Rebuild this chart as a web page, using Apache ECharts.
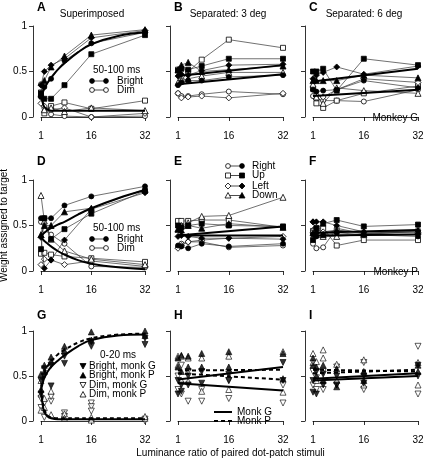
<!DOCTYPE html>
<html><head><meta charset="utf-8">
<script src="https://cdn.jsdelivr.net/npm/echarts@6/dist/echarts.min.js"></script>
<style>html,body{margin:0;padding:0;background:#fff}#c{width:424px;height:458px}</style>
</head><body><div id="c"></div>
<script>
const FONT = 'Liberation Sans, Arial, Helvetica, sans-serif';
// ---------- data ----------
const xs = [1, 2, 4, 8, 16, 32];
const fitXs = [1, 1.5, 2, 3, 4, 6, 8, 12, 16, 24, 32];
const endXs = [1, 32];
const xTicks = [1, 16, 32];
const yTicks = [0, 0.5, 1];
const panelLetters = ['A','B','C','D','E','F','G','H','I'];
const directions = ['Right', 'Up', 'Left', 'Down'];

// Panel A (superimposed, monkey G, 50-100 ms)
const A_bright = { Right: [0.22, 0.33, 0.42, 0.62, 0.81, 0.93], Up: [0.26, 0.20, 0.20, 0.35, 0.69, 0.90], Left: [0.35, 0.50, 0.57, 0.64, 0.87, 0.95], Down: [0.25, 0.40, 0.55, 0.67, 0.90, 0.96] };
const A_dim = { Right: [0.36, 0.10, 0.03, 0.01, 0.00, 0.01], Up: [0.27, 0.04, 0.12, 0.16, 0.09, 0.18], Left: [0.15, 0.12, 0.08, 0.10, 0.00, 0.04], Down: [0.26, 0.08, 0.10, 0.06, 0.10, 0.07] };
const A_fitBright = [0.22, 0.27, 0.31, 0.38, 0.43, 0.52, 0.59, 0.71, 0.80, 0.89, 0.93];
const A_fitDim = [0.27, 0.16, 0.11, 0.08, 0.07, 0.07, 0.07, 0.07, 0.07, 0.07, 0.07];
// Panel B (separated 3 deg, monkey G)
const B_bright = { Right: [0.35, 0.38, 0.40, 0.40, 0.44, 0.46], Up: [0.51, 0.53, 0.52, 0.56, 0.64, 0.64], Left: [0.45, 0.47, 0.46, 0.51, 0.57, 0.58], Down: [0.52, 0.57, 0.60, 0.50, 0.52, 0.56] };
const B_dim = { Right: [0.26, 0.23, 0.23, 0.25, 0.28, 0.25], Up: [0.52, 0.40, 0.50, 0.63, 0.85, 0.76], Left: [0.26, 0.21, 0.22, 0.23, 0.21, 0.26], Down: [0.38, 0.40, 0.42, 0.45, 0.49, 0.49] };
const B_fitBright = [0.45, 0.57];
const B_fitDim = [0.36, 0.47];
// Panel C (separated 6 deg, monkey G)
const C_bright = { Right: [0.30, 0.28, 0.29, 0.30, 0.40, 0.32], Up: [0.50, 0.50, 0.53, 0.29, 0.64, 0.57], Left: [0.42, 0.46, 0.49, 0.55, 0.47, 0.56], Down: [0.40, 0.40, 0.40, 0.40, 0.46, 0.43] };
const C_dim = { Right: [0.23, 0.20, 0.18, 0.18, 0.17, 0.30], Up: [0.31, 0.15, 0.10, 0.18, 0.26, 0.34], Left: [0.33, 0.24, 0.22, 0.30, 0.42, 0.38], Down: [0.36, 0.22, 0.15, 0.32, 0.29, 0.26] };
const C_fitBright = [0.39, 0.53];
const C_fitDim = [0.23, 0.30];
// Panel D (superimposed, monkey P)
const D_bright = { Right: [0.58, 0.58, 0.58, 0.72, 0.82, 0.93], Up: [0.24, 0.58, 0.35, 0.46, 0.63, 0.88], Left: [0.37, 0.03, 0.12, 0.34, 0.68, 0.86], Down: [0.40, 0.50, 0.50, 0.65, 0.69, 0.90] };
const D_dim = { Right: [0.54, 0.45, 0.40, 0.30, 0.05, 0.04], Up: [0.19, 0.20, 0.18, 0.16, 0.14, 0.10], Left: [0.07, 0.13, 0.12, 0.07, 0.11, 0.05], Down: [0.83, 0.55, 0.35, 0.22, 0.13, 0.07] };
const D_fitBright = [0.37, 0.40, 0.42, 0.45, 0.47, 0.51, 0.54, 0.62, 0.69, 0.80, 0.89];
const D_fitDim = [0.37, 0.35, 0.33, 0.30, 0.27, 0.22, 0.18, 0.12, 0.08, 0.04, 0.02];
// Panel E (separated 3 deg, monkey P)
const E_bright = { Right: [0.28, 0.27, 0.25, 0.30, 0.27, 0.30], Up: [0.50, 0.48, 0.50, 0.52, 0.50, 0.49], Left: [0.38, 0.39, 0.38, 0.36, 0.36, 0.35], Down: [0.46, 0.45, 0.50, 0.47, 0.52, 0.48] };
const E_dim = { Right: [0.26, 0.30, 0.32, 0.32, 0.26, 0.28], Up: [0.55, 0.55, 0.55, 0.56, 0.56, 0.48], Left: [0.25, 0.28, 0.32, 0.34, 0.36, 0.38], Down: [0.46, 0.50, 0.53, 0.60, 0.61, 0.81] };
const E_fitBright = [0.39, 0.49];
const E_fitDim = [0.39, 0.39];
// Panel F (separated 6 deg, monkey P)
const F_bright = { Right: [0.40, 0.38, 0.40, 0.42, 0.40, 0.38], Up: [0.34, 0.47, 0.52, 0.56, 0.49, 0.51], Left: [0.54, 0.54, 0.54, 0.50, 0.43, 0.44], Down: [0.42, 0.44, 0.40, 0.45, 0.41, 0.43] };
const F_dim = { Right: [0.30, 0.25, 0.26, 0.47, 0.41, 0.45], Up: [0.44, 0.47, 0.47, 0.28, 0.34, 0.34], Left: [0.54, 0.45, 0.43, 0.45, 0.42, 0.42], Down: [0.45, 0.40, 0.38, 0.38, 0.40, 0.44] };
const F_fitBright = [0.42, 0.45];
const F_fitDim = [0.39, 0.40];
// Panel G (superimposed, 0-20 ms, both monkeys)
const G_brightG = [[1,0.30],[1,0.45],[2,0.50],[2,0.58],[4,0.39],[4,0.62],[8,0.64],[8,0.72],[16,0.83],[16,0.88],[32,0.85],[32,0.92]];
const G_brightP = [[1,0.35],[1,0.52],[2,0.55],[2,0.62],[4,0.66],[4,0.71],[8,0.78],[8,0.83],[16,0.90],[16,0.99],[32,0.95],[32,1.00]];
const G_dimG = [[1,0.15],[1,0.25],[2,0.04],[2,0.20],[4,0.22],[4,0.27],[8,0.05],[8,0.09],[16,0.20],[16,0.16],[16,0.11],[32,0.02],[32,0.00]];
const G_dimP = [[1,0.12],[1,0.30],[1,0.45],[2,0.15],[2,0.25],[4,0.07],[4,0.33],[8,0.08],[8,0.03],[16,0.04],[16,0.01],[32,0.03],[32,0.05]];
const G_fitBrightG = [0.34, 0.42, 0.48, 0.55, 0.60, 0.67, 0.73, 0.83, 0.90, 0.95, 0.96];
const G_fitBrightP = [0.38, 0.47, 0.53, 0.61, 0.66, 0.74, 0.79, 0.87, 0.92, 0.96, 0.97];
const G_fitDimG = [0.33, 0.18, 0.10, 0.05, 0.03, 0.02, 0.02, 0.02, 0.02, 0.02, 0.02];
const G_fitDimP = [0.36, 0.22, 0.13, 0.06, 0.04, 0.03, 0.03, 0.03, 0.03, 0.03, 0.03];
// Panel H (separated 3 deg, 0-20 ms)
const H_brightG = [[1,0.30],[1,0.45],[2,0.33],[2,0.40],[4,0.40],[4,0.50],[8,0.42],[8,0.55],[16,0.45],[16,0.52],[32,0.45],[32,0.65]];
const H_brightP = [[1,0.70],[1,0.60],[2,0.73],[2,0.55],[4,0.72],[4,0.60],[8,0.75],[8,0.60],[16,0.77],[16,0.60],[32,0.75],[32,0.47]];
const H_dimG = [[1,0.35],[1,0.50],[2,0.30],[2,0.62],[4,0.22],[4,0.55],[8,0.22],[8,0.35],[16,0.25],[16,0.45],[32,0.20],[32,0.40]];
const H_dimP = [[1,0.72],[1,0.62],[2,0.72],[2,0.45],[4,0.70],[4,0.44],[8,0.70],[8,0.33],[16,0.72],[16,0.35],[32,0.77],[32,0.32]];
const H_fitBrightG = [0.46, 0.60];
const H_fitDimG = [0.42, 0.34];
const H_fitBrightP = [0.56, 0.57];
const H_fitDimP = [0.53, 0.46];
// Panel I (separated 6 deg, 0-20 ms)
const I_brightG = [[1,0.32],[1,0.45],[2,0.30],[2,0.55],[4,0.40],[4,0.52],[8,0.40],[8,0.50],[16,0.42],[16,0.50],[32,0.50],[32,0.62]];
const I_brightP = [[1,0.62],[1,0.70],[2,0.60],[2,0.50],[4,0.62],[4,0.45],[8,0.58],[8,0.38],[16,0.55],[16,0.45],[32,0.62],[32,0.55]];
const I_dimG = [[1,0.40],[1,0.55],[2,0.35],[2,0.48],[4,0.35],[4,0.55],[8,0.40],[8,0.60],[16,0.35],[16,0.65],[32,0.30],[32,0.83]];
const I_dimP = [[1,0.65],[1,0.75],[2,0.45],[2,0.66],[4,0.79],[4,0.70],[8,0.63],[8,0.45],[16,0.68],[16,0.40],[32,0.40],[32,0.65]];
const I_fitBrightG = [0.47, 0.53];
const I_fitDimG = [0.45, 0.50];
const I_fitBrightP = [0.57, 0.55];
const I_fitDimP = [0.53, 0.57];

// ---------- layout ----------
const cols = [{ left: 41, width: 104 }, { left: 178, width: 105 }, { left: 313, width: 105 }];
const rows = [{ top: 26, height: 91 }, { top: 180, height: 91 }, { top: 331, height: 90 }];
const shapeOf = { Right: 'circle', Up: 'rect', Left: 'diamond', Down: 'triangle' };
const sizeOf = { Right: 5, Up: 5, Left: 6, Down: 6 };

const grids = [], xAxes = [], yAxes = [], series = [];
for (let r = 0; r < 3; r++) for (let c = 0; c < 3; c++) {
  const gi = r * 3 + c;
  grids.push({ left: cols[c].left, width: cols[c].width, top: rows[r].top, height: rows[r].height, outerBoundsMode: 'none', containLabel: false });
  const ax = {
    type: 'value', gridIndex: gi, min: 1, max: 32, offset: 9,
    axisLine: { show: true, lineStyle: { color: '#000', width: 0.8 } },
    axisTick: { show: true, length: 4, customValues: xTicks, lineStyle: { color: '#000', width: 0.8 } },
    axisLabel: { show: true, customValues: xTicks, fontSize: 10, color: '#000', margin: 5, fontFamily: FONT },
    splitLine: { show: false }
  };
  if (gi === 7) {
    ax.name = 'Luminance ratio of paired dot-patch stimuli';
    ax.nameLocation = 'middle'; ax.nameGap = 18;
    ax.nameTextStyle = { fontSize: 10, color: '#000', fontFamily: FONT };
  }
  xAxes.push(ax);
  const ay = {
    type: 'value', gridIndex: gi, min: 0, max: 1, interval: 0.5, offset: 8,
    axisLine: { show: true, lineStyle: { color: '#000', width: 0.8 } },
    axisTick: { show: true, length: 4, lineStyle: { color: '#000', width: 0.8 } },
    axisLabel: { show: c === 0, fontSize: 10, color: '#000', margin: 6, fontFamily: FONT },
    splitLine: { show: false }
  };
  if (gi === 3) {
    ay.name = 'Weight assigned to target';
    ay.nameLocation = 'middle'; ay.nameGap = 20;
    ay.nameTextStyle = { fontSize: 10, color: '#000', fontFamily: FONT };
  }
  yAxes.push(ay);
}

function dirLine(gi, vals, dir, filled) {
  return {
    type: 'line', xAxisIndex: gi, yAxisIndex: gi, clip: false, animation: false,
    data: xs.map((x, i) => [x, vals[i]]),
    symbol: shapeOf[dir], symbolSize: sizeOf[dir], showSymbol: true,
    lineStyle: { color: '#333', width: 0.7 },
    itemStyle: { color: filled ? '#000' : '#fff', borderColor: '#000', borderWidth: 0.8 },
    z: filled ? 4 : 3
  };
}
function fitLine(gi, xv, vals, dashed, smooth) {
  return {
    type: 'line', xAxisIndex: gi, yAxisIndex: gi, clip: false, animation: false,
    data: xv.map((x, i) => [x, vals[i]]), symbol: 'none', showSymbol: false,
    smooth: smooth ? 0.4 : false,
    lineStyle: { color: '#000', width: 2, type: dashed ? [4, 3] : 'solid' }, z: 6
  };
}
function tri(gi, pts, down, filled) {
  return {
    type: 'scatter', xAxisIndex: gi, yAxisIndex: gi, clip: false, animation: false,
    data: pts, symbol: 'triangle', symbolSize: 6, symbolRotate: down ? 180 : 0,
    itemStyle: { color: filled ? '#000' : '#fff', borderColor: '#000', borderWidth: 0.8 },
    z: filled ? 4 : 3
  };
}

const dirPanels = [
  { gi: 0, b: A_bright, d: A_dim, fb: A_fitBright, fd: A_fitDim, curve: true },
  { gi: 1, b: B_bright, d: B_dim, fb: B_fitBright, fd: B_fitDim, curve: false },
  { gi: 2, b: C_bright, d: C_dim, fb: C_fitBright, fd: C_fitDim, curve: false },
  { gi: 3, b: D_bright, d: D_dim, fb: D_fitBright, fd: D_fitDim, curve: true },
  { gi: 4, b: E_bright, d: E_dim, fb: E_fitBright, fd: E_fitDim, curve: false },
  { gi: 5, b: F_bright, d: F_dim, fb: F_fitBright, fd: F_fitDim, curve: false }
];
dirPanels.forEach(p => {
  directions.forEach(dir => {
    series.push(dirLine(p.gi, p.d[dir], dir, false));
    series.push(dirLine(p.gi, p.b[dir], dir, true));
  });
  const xv = p.curve ? fitXs : endXs;
  series.push(fitLine(p.gi, xv, p.fb, false, p.curve));
  series.push(fitLine(p.gi, xv, p.fd, false, p.curve));
});
const triPanels = [
  { gi: 6, bG: G_brightG, bP: G_brightP, dG: G_dimG, dP: G_dimP, fits: [[fitXs, G_fitBrightG, false], [fitXs, G_fitDimG, false], [fitXs, G_fitBrightP, true], [fitXs, G_fitDimP, true]], curve: true },
  { gi: 7, bG: H_brightG, bP: H_brightP, dG: H_dimG, dP: H_dimP, fits: [[endXs, H_fitBrightG, false], [endXs, H_fitDimG, false], [endXs, H_fitBrightP, true], [endXs, H_fitDimP, true]], curve: false },
  { gi: 8, bG: I_brightG, bP: I_brightP, dG: I_dimG, dP: I_dimP, fits: [[endXs, I_fitBrightG, false], [endXs, I_fitDimG, false], [endXs, I_fitBrightP, true], [endXs, I_fitDimP, true]], curve: false }
];
triPanels.forEach(p => {
  series.push(tri(p.gi, p.dG, true, false));
  series.push(tri(p.gi, p.dP, false, false));
  series.push(tri(p.gi, p.bG, true, true));
  series.push(tri(p.gi, p.bP, false, true));
  p.fits.forEach(f => series.push(fitLine(p.gi, f[0], f[1], f[2], p.curve)));
});

// ---------- annotations / legends ----------
const G = [];
function txt(x, y, s, opt) {
  G.push({ type: 'text', x: x, y: y, z: 10, style: Object.assign({ text: s, fill: '#000', font: '10px ' + FONT, textVerticalAlign: 'middle' }, opt || {}) });
}
function sym(shape, cx, cy, filled, down) {
  const st = { fill: filled ? '#000' : '#fff', stroke: '#000', lineWidth: 0.8 };
  if (shape === 'circle') G.push({ type: 'circle', shape: { cx: cx, cy: cy, r: 2.4 }, style: st, z: 11 });
  else if (shape === 'rect') G.push({ type: 'rect', shape: { x: cx - 2.5, y: cy - 2.5, width: 5, height: 5 }, style: st, z: 11 });
  else if (shape === 'diamond') G.push({ type: 'polygon', shape: { points: [[cx, cy - 3], [cx + 3, cy], [cx, cy + 3], [cx - 3, cy]] }, style: st, z: 11 });
  else if (shape === 'triangle') {
    const pts = down ? [[cx, cy + 3], [cx + 3, cy - 2.5], [cx - 3, cy - 2.5]] : [[cx, cy - 3], [cx + 3, cy + 2.5], [cx - 3, cy + 2.5]];
    G.push({ type: 'polygon', shape: { points: pts }, style: st, z: 11 });
  }
}
function seg(x1, y1, x2, y2, w, dash) {
  G.push({ type: 'line', z: 10, shape: { x1: x1, y1: y1, x2: x2, y2: y2 }, style: { stroke: '#000', lineWidth: w, lineDash: dash || null } });
}
const letterPos = [[37, 8], [174, 8], [309, 8], [37, 162], [174, 162], [309, 162], [37, 316], [174, 316], [309, 316]];
panelLetters.forEach((L, i) => txt(letterPos[i][0], letterPos[i][1], L, { font: 'bold 12px ' + FONT }));
txt(92, 14, 'Superimposed', { textAlign: 'center' });
txt(228, 14, 'Separated: 3 deg', { textAlign: 'center' });
txt(364, 14, 'Separated: 6 deg', { textAlign: 'center' });
txt(418, 118, 'Monkey G', { textAlign: 'right' });
txt(418, 272, 'Monkey P', { textAlign: 'right' });
[[70, 81, 90], [228, 239, 248]].forEach(r => {
  txt(93, r[0], '50-100 ms');
  seg(92, r[1], 106, r[1], 0.7); sym('circle', 92, r[1], true); sym('circle', 106, r[1], true); txt(117, r[1], 'Bright');
  seg(92, r[2], 106, r[2], 0.7); sym('circle', 92, r[2], false); sym('circle', 106, r[2], false); txt(117, r[2], 'Dim');
});
const eY = [166, 175.5, 186, 195.5];
directions.forEach((dir, i) => {
  seg(228, eY[i], 242, eY[i], 0.7);
  sym(shapeOf[dir], 228, eY[i], false); sym(shapeOf[dir], 242, eY[i], true);
  txt(252, eY[i], dir);
});
txt(100, 355, '0-20 ms');
const gLeg = [['Bright, monk G', true, true], ['Bright, monk P', false, true], ['Dim, monk G', true, false], ['Dim, monk P', false, false]];
const gY = [366, 375.5, 385, 394.5];
gLeg.forEach((g, i) => { sym('triangle', 83, gY[i], g[2], g[1]); txt(89, gY[i], g[0]); });
seg(214, 412, 232, 412, 2); txt(237, 412, 'Monk G');
seg(214, 421, 232, 421, 2, [4, 3]); txt(237, 421, 'Monk P');

const chart = echarts.init(document.getElementById('c'), null, { renderer: 'canvas' });
chart.setOption({
  animation: false,
  backgroundColor: '#fff',
  textStyle: { fontFamily: FONT },
  grid: grids, xAxis: xAxes, yAxis: yAxes, series: series, graphic: G
});
</script></body></html>
